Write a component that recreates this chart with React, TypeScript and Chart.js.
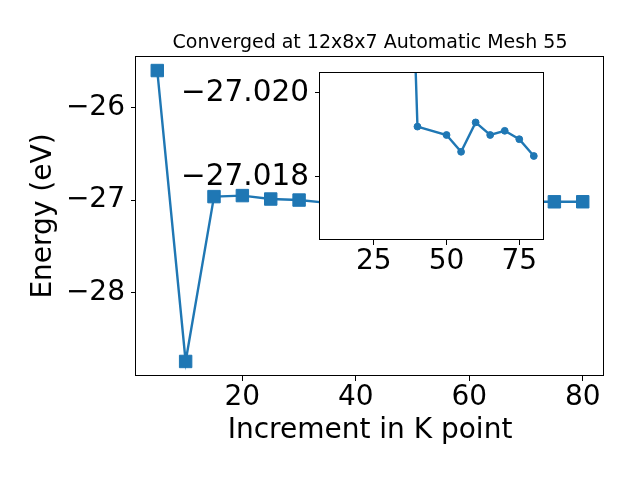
import React, { useEffect, useRef } from "react";
import { Chart, registerables } from "chart.js";

Chart.register(...registerables);

// ---- data ----
const kPoints = [5, 10, 15, 20, 25, 30, 35, 40, 50, 55, 60, 65, 70, 75, 80];
const energies = [
  -25.604, -28.74, -26.963, -26.952, -26.989, -27.0, -27.03, -27.0192,
  -27.019, -27.0186, -27.0193, -27.019, -27.0191, -27.0189, -27.0185,
];
const insetFromK = 35;
const mainXTicks = [20, 40, 60, 80];
const mainYTicks = [-28, -27, -26];
const insetXTicks = [25, 50, 75];
const insetYTicks = [-27.02, -27.018];
const insetXRange = [6.5, 83.5];
const insetYRange = [-27.0205, -27.0165];
const titleText = "Converged at 12x8x7 Automatic Mesh 55";
const xLabel = "Increment in K point";
const yLabel = "Energy (eV)";

const FAMILY = "'DejaVu Sans', sans-serif";
const BLUE = "#1f77b4";

const fmtNum = (v: number, digits: number) => {
  const s = Math.abs(v).toFixed(digits);
  return v < 0 ? "\u2212" + s : s;
};

const framePlugin = {
  id: "frame",
  beforeDraw(chart: any, _args: any, opts: any) {
    if (opts && opts.fillWhite) {
      const { left, top, right, bottom } = chart.chartArea;
      const ctx = chart.ctx;
      ctx.save();
      ctx.fillStyle = "#ffffff";
      ctx.fillRect(left, top, right - left, bottom - top);
      ctx.restore();
    }
  },
  afterDraw(chart: any) {
    const { left, top, right, bottom } = chart.chartArea;
    const ctx = chart.ctx;
    ctx.save();
    ctx.strokeStyle = "#000000";
    ctx.lineWidth = 1;
    ctx.strokeRect(
      Math.round(left) - 0.5,
      Math.round(top) + 0.5,
      Math.round(right) - Math.round(left),
      Math.round(bottom) - Math.round(top) - 1
    );
    ctx.restore();
  },
};

const axisGrid = {
  drawOnChartArea: false,
  drawTicks: true,
  tickLength: 5,
  color: "#000000",
  lineWidth: 1,
};

export default function App() {
  const mainRef = useRef<HTMLCanvasElement>(null);
  const insetRef = useRef<HTMLCanvasElement>(null);

  useEffect(() => {
    const points = kPoints.map((k, i) => ({ x: k, y: energies[i] }));
    const insetPoints = points.filter((p) => p.x >= insetFromK);
    const yMin = Math.min(...energies);
    const yMax = Math.max(...energies);
    const xMin = Math.min(...kPoints);
    const xMax = Math.max(...kPoints);
    const yPad = (yMax - yMin) * 0.05;
    const xPad = (xMax - xMin) * 0.05;

    const main = new Chart(mainRef.current!, {
      type: "line",
      data: {
        datasets: [
          {
            data: points,
            borderColor: BLUE,
            backgroundColor: BLUE,
            borderWidth: 2.4,
            pointStyle: "rect",
            pointRadius: 8.8,
            pointBorderWidth: 1,
            pointBackgroundColor: BLUE,
            pointBorderColor: BLUE,
            tension: 0,
          },
        ],
      },
      options: {
        animation: false,
        responsive: false,
        devicePixelRatio: 1,
        layout: { padding: { left: 0, right: 36, top: 0, bottom: 0 } },
        plugins: {
          legend: { display: false },
          tooltip: { enabled: false },
          title: {
            display: true,
            text: titleText,
            fullSize: false,
            color: "#000000",
            font: { family: FAMILY, size: 19, weight: "normal", lineHeight: 1.2 },
            padding: { top: 32, bottom: 1.2 },
          },
        },
        scales: {
          x: {
            type: "linear",
            min: xMin - xPad,
            max: xMax + xPad,
            afterBuildTicks: (s: any) => {
              s.ticks = mainXTicks.map((v) => ({ value: v }));
            },
            afterFit: (s: any) => {
              s.height = 104;
            },
            grid: axisGrid,
            border: { display: false },
            ticks: {
              color: "#000000",
              font: { family: FAMILY, size: 28, lineHeight: 1.2 },
              padding: 0,
              maxRotation: 0,
              autoSkip: false,
              callback: (v: any) => fmtNum(Number(v), 0),
            },
            title: {
              display: true,
              text: xLabel,
              color: "#000000",
              font: { family: FAMILY, size: 28, lineHeight: 1.2 },
              padding: { top: 0, bottom: 32.5 },
            },
          },
          y: {
            type: "linear",
            min: yMin - yPad,
            max: yMax + yPad,
            afterBuildTicks: (s: any) => {
              s.ticks = mainYTicks.map((v) => ({ value: v }));
            },
            afterFit: (s: any) => {
              s.width = 136;
            },
            grid: axisGrid,
            border: { display: false },
            ticks: {
              color: "#000000",
              font: { family: FAMILY, size: 28, lineHeight: 1.2 },
              padding: 6,
              autoSkip: false,
              callback: (v: any) => fmtNum(Number(v), 0),
            },
            title: {
              display: true,
              text: yLabel,
              color: "#000000",
              font: { family: FAMILY, size: 28, lineHeight: 1.2 },
              padding: { top: 26.5, bottom: 0 },
            },
          },
        },
      },
      plugins: [framePlugin],
    } as any);

    const inset = new Chart(insetRef.current!, {
      type: "line",
      data: {
        datasets: [
          {
            data: insetPoints,
            borderColor: BLUE,
            backgroundColor: BLUE,
            borderWidth: 2.4,
            pointStyle: "circle",
            pointRadius: 3.4,
            pointBorderWidth: 1,
            pointBackgroundColor: BLUE,
            pointBorderColor: BLUE,
            tension: 0,
          },
        ],
      },
      options: {
        animation: false,
        responsive: false,
        devicePixelRatio: 1,
        layout: { padding: { left: 0, right: 6, top: 30, bottom: 0 } },
        plugins: {
          legend: { display: false },
          tooltip: { enabled: false },
          title: { display: false },
          frame: { fillWhite: true },
        },
        scales: {
          x: {
            type: "linear",
            min: insetXRange[0],
            max: insetXRange[1],
            afterBuildTicks: (s: any) => {
              s.ticks = insetXTicks.map((v) => ({ value: v }));
            },
            afterFit: (s: any) => {
              s.height = 47;
            },
            grid: axisGrid,
            border: { display: false },
            ticks: {
              color: "#000000",
              font: { family: FAMILY, size: 28, lineHeight: 1.2 },
              padding: 0,
              maxRotation: 0,
              autoSkip: false,
              callback: (v: any) => fmtNum(Number(v), 0),
            },
          },
          y: {
            type: "linear",
            reverse: true,
            min: insetYRange[0],
            max: insetYRange[1],
            afterBuildTicks: (s: any) => {
              s.ticks = insetYTicks.map((v) => ({ value: v }));
            },
            afterFit: (s: any) => {
              s.width = 150;
            },
            grid: axisGrid,
            border: { display: false },
            ticks: {
              color: "#000000",
              font: { family: FAMILY, size: 29.5, lineHeight: 1.2 },
              padding: 6,
              autoSkip: false,
              callback: (v: any) => fmtNum(Number(v), 3),
            },
          },
        },
      },
      plugins: [framePlugin],
    } as any);

    return () => {
      main.destroy();
      inset.destroy();
    };
  }, []);

  return (
    <div
      style={{
        position: "fixed",
        left: 0,
        top: 0,
        width: 640,
        height: 480,
        background: "#ffffff",
      }}
    >
      <canvas
        ref={mainRef}
        width={640}
        height={480}
        style={{ position: "absolute", left: 0, top: 0, width: 640, height: 480 }}
      />
      <canvas
        ref={insetRef}
        width={380}
        height={245}
        style={{ position: "absolute", left: 170, top: 42, width: 380, height: 245 }}
      />
    </div>
  );
}
